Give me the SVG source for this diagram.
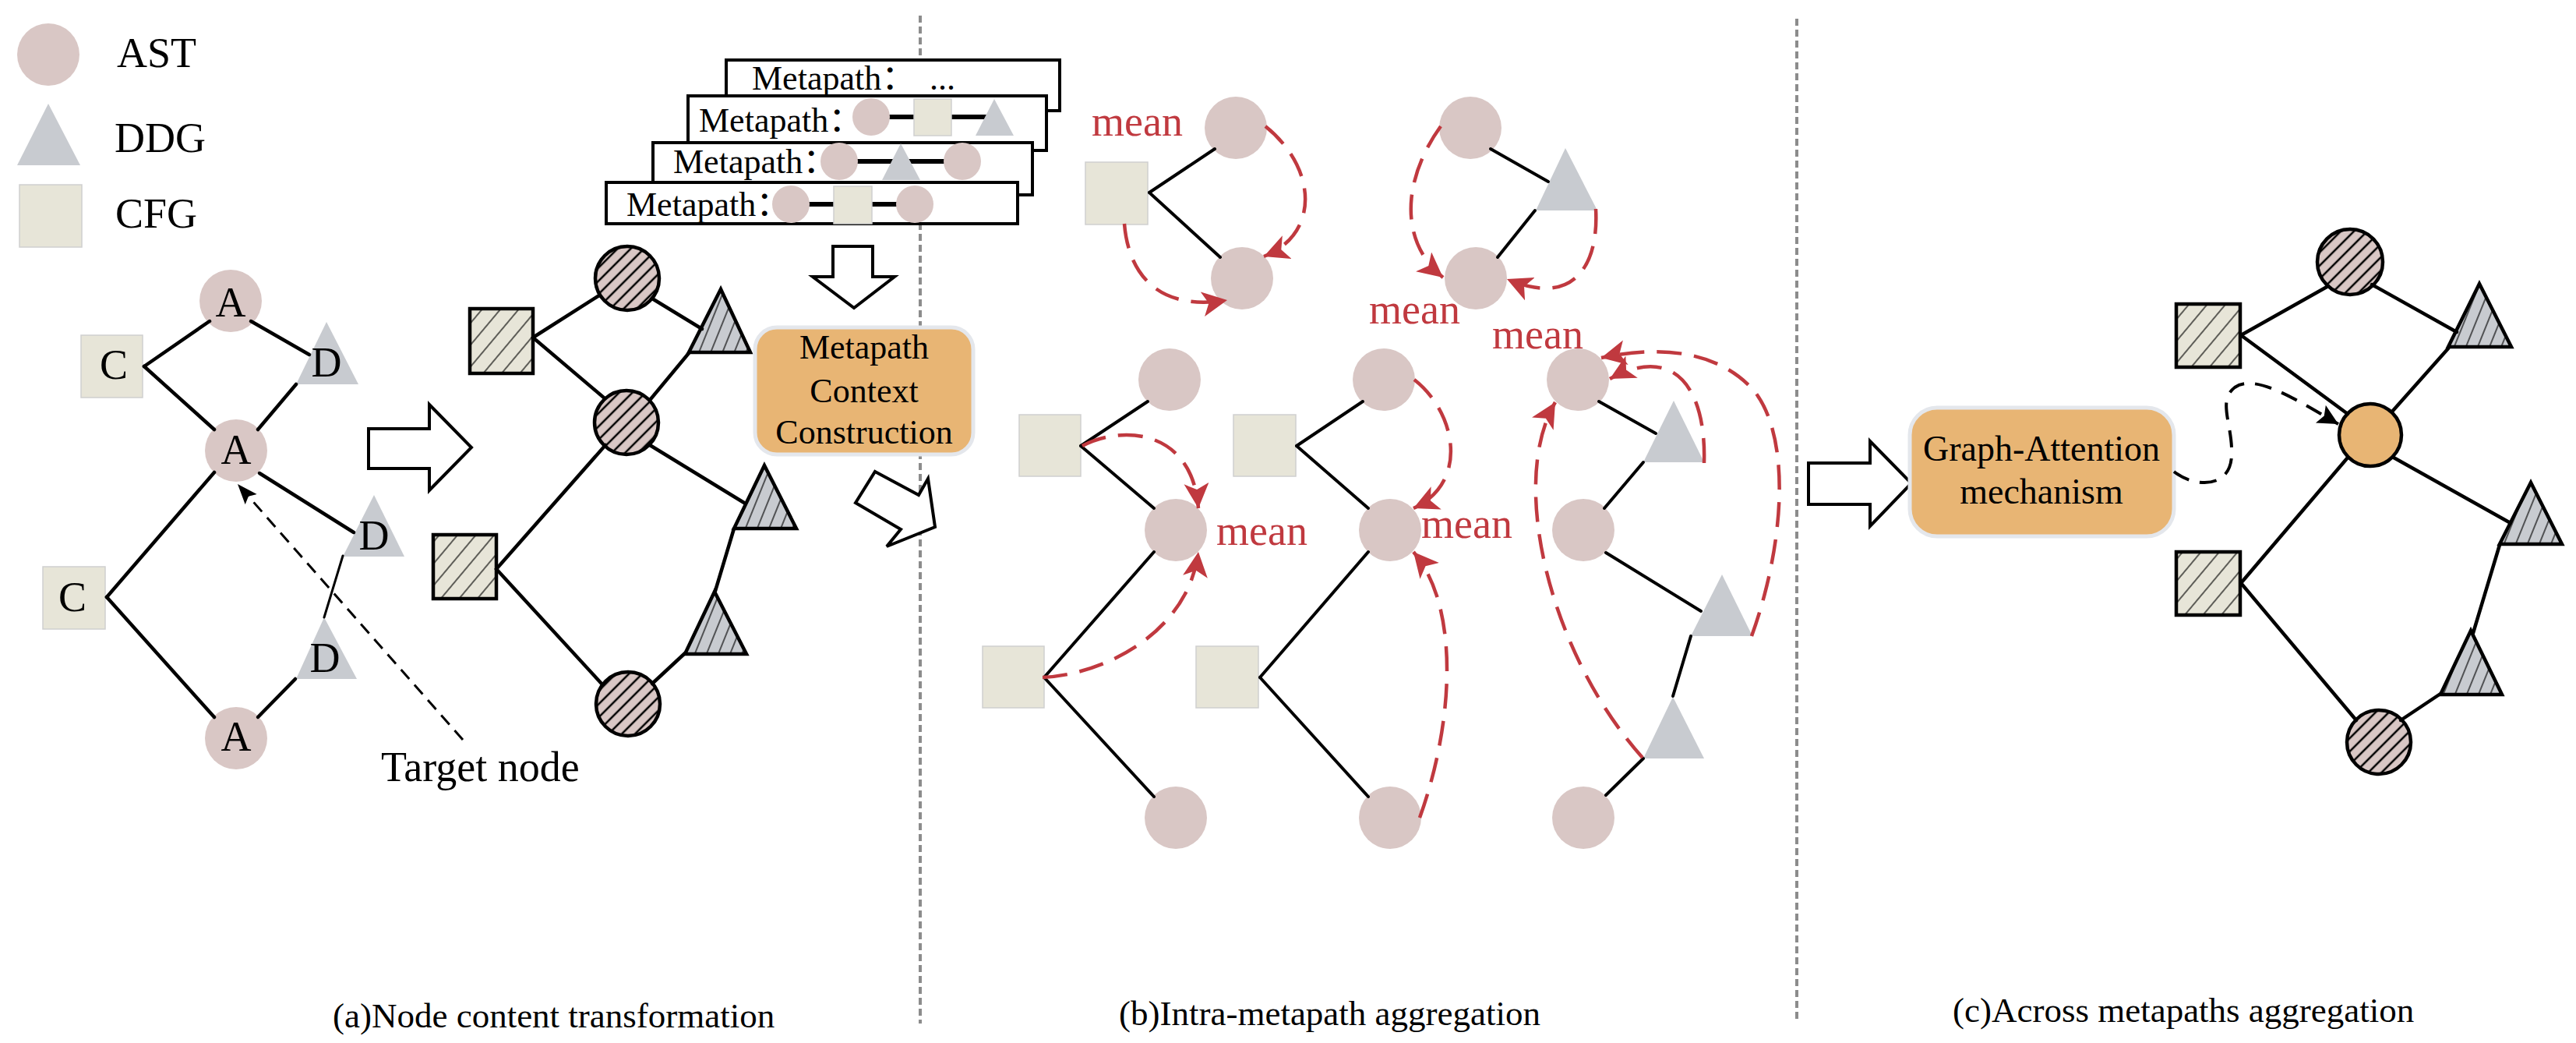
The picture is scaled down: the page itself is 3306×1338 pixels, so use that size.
<svg xmlns="http://www.w3.org/2000/svg" width="3306" height="1338" viewBox="0 0 3306 1338">
<style>
.t{font-family:"Liberation Serif","Times New Roman",serif;fill:#000}
.n54{font-size:54px}
.n44{font-size:44px}
.mid{text-anchor:middle}
.red{fill:#c0393f}
.ast{fill:#d9c7c5}
.ddg{fill:#c8cbd0}
.cfg{fill:#e7e5d8;stroke:#cfcfcf;stroke-width:1.5}
.hcirc{fill:url(#hc);stroke:#000;stroke-width:4.5}
.hsq{fill:url(#hs);stroke:#000;stroke-width:4.5}
.htri{fill:url(#ht);stroke:#000;stroke-width:4.5;stroke-linejoin:miter}
.edge{stroke:#000;stroke-width:4.5;fill:none;stroke-linecap:round}
.eb{stroke-width:4}
.thin{stroke-width:3}
.rd{stroke:#c0393f;stroke-width:4.5;fill:none;stroke-dasharray:32 16}
.bd{stroke:#000;stroke-width:3;fill:none;stroke-dasharray:16 10}
.bd2{stroke:#000;stroke-width:4;fill:none;stroke-dasharray:22 14}
.div{stroke:#8c8c8c;stroke-width:4;fill:none;stroke-dasharray:9 5}
.hollow{fill:#fff;stroke:#000;stroke-width:4;stroke-linejoin:miter}
.mp{fill:#fff;stroke:#000;stroke-width:4}
.obox{fill:#e8b574;stroke:#e4e7ec;stroke-width:5}
.link{stroke:#000;stroke-width:6;stroke-linecap:round}
</style>
<defs>
<pattern id="hc" width="12" height="12" patternUnits="userSpaceOnUse" patternTransform="rotate(45)"><rect width="12" height="12" fill="#d9c7c5"/><line x1="6" y1="0" x2="6" y2="12" stroke="#000" stroke-width="2.5"/></pattern>
<pattern id="hs" width="18" height="18" patternUnits="userSpaceOnUse" patternTransform="rotate(40)"><rect width="18" height="18" fill="#e7e5d8"/><line x1="9" y1="0" x2="9" y2="18" stroke="#000" stroke-width="1.2"/></pattern>
<pattern id="ht" width="14" height="14" patternUnits="userSpaceOnUse" patternTransform="rotate(22)"><rect width="14" height="14" fill="#c8cbd0"/><line x1="7" y1="0" x2="7" y2="14" stroke="#000" stroke-width="1.2"/></pattern>
<marker id="ra" markerUnits="userSpaceOnUse" markerWidth="34" markerHeight="34" refX="32" refY="16" orient="auto"><path d="M0,0 L32,16 L0,32 L8,16 z" fill="#c0393f"/></marker>
<marker id="ba" markerUnits="userSpaceOnUse" markerWidth="28" markerHeight="22" refX="26" refY="10" orient="auto"><path d="M0,0 L26,10 L0,20 L5,10 z" fill="#000"/></marker>
<marker id="ba2" markerUnits="userSpaceOnUse" markerWidth="28" markerHeight="28" refX="26" refY="13" orient="auto"><path d="M0,0 L26,13 L0,26 L5,13 z" fill="#000"/></marker>
</defs>
<rect width="3306" height="1338" fill="#fff"/>

<g id="dividers">
<line class="div" x1="1181" y1="20" x2="1181" y2="1313"/>
<line class="div" x1="2306" y1="24" x2="2306" y2="1308"/>
</g>

<g id="legend">
<g id="legend-ast"><circle class="ast" cx="62" cy="70" r="40"/><text class="t n54" x="150" y="86">AST</text></g>
<g id="legend-ddg"><polygon class="ddg" points="62,133 22,212 103,212"/><text class="t n54" x="147" y="195">DDG</text></g>
<g id="legend-cfg"><rect class="cfg" x="25" y="237" width="80" height="80"/><text class="t n54" x="148" y="292">CFG</text></g>
</g>

<!-- (a) original graph -->
<g id="a-A1"><circle class="ast" cx="296" cy="386" r="40"/><text class="t n54 mid" x="296" y="406">A</text></g>
<g id="a-C1"><rect class="cfg" x="104" y="430" width="79" height="80"/><text class="t n54 mid" x="146" y="486">C</text></g>
<g id="a-D1"><polygon class="ddg" points="419,413 380,493 460,493"/><text class="t n54 mid" x="419" y="483">D</text></g>
<g id="a-A2"><circle class="ast" cx="303" cy="578" r="40"/><text class="t n54 mid" x="303" y="595">A</text></g>
<g id="a-D2"><polygon class="ddg" points="480,635 440,714 519,714"/><text class="t n54 mid" x="480" y="705">D</text></g>
<g id="a-C2"><rect class="cfg" x="55" y="727" width="80" height="80"/><text class="t n54 mid" x="93" y="784">C</text></g>
<g id="a-D3"><polygon class="ddg" points="416,792 380,871 458,871"/><text class="t n54 mid" x="417" y="862">D</text></g>
<g id="a-A3"><circle class="ast" cx="303" cy="947" r="40"/><text class="t n54 mid" x="303" y="963">A</text></g>
<g id="a-target-label"><text class="t n54" x="489" y="1002">Target node</text></g>
<g id="a-transform-arrow"><polygon class="hollow" points="473,550 551,550 551,519 605,574 551,629 551,601 473,601"/></g>

<!-- (a) transformed graph -->
<g id="h-c1"><circle class="hcirc" cx="805" cy="357" r="41"/></g>
<g id="h-s1"><rect class="hsq" x="603" y="396" width="81" height="83"/></g>
<g id="h-t1"><polygon class="htri" points="925,371 884,452 963,452"/></g>
<g id="h-c2"><circle class="hcirc" cx="804" cy="542" r="41"/></g>
<g id="h-t2"><polygon class="htri" points="981,597 942,678 1022,678"/></g>
<g id="h-s2"><rect class="hsq" x="556" y="686" width="81" height="82"/></g>
<g id="h-t3"><polygon class="htri" points="917,759 879,839 958,839"/></g>
<g id="h-c3"><circle class="hcirc" cx="806" cy="903" r="41"/></g>

<!-- metapath stack -->
<g id="metapath-4"><rect class="mp" x="932" y="77" width="428" height="65"/><text class="t n44" font-family="Liberation Serif, serif" x="965" y="115">Metapath<tspan font-family="'Noto Sans CJK SC',sans-serif">：</tspan></text><text class="t n44" x="1193" y="115">...</text></g>
<g id="metapath-3"><rect class="mp" x="883" y="123" width="460" height="70"/><text class="t n44" font-family="Liberation Serif, serif" x="897" y="169">Metapath<tspan font-family="'Noto Sans CJK SC',sans-serif">：</tspan></text>
<line class="link" x1="1142" y1="150" x2="1175" y2="150"/><line class="link" x1="1221" y1="150" x2="1266" y2="150"/>
<circle class="ast" cx="1118" cy="150" r="24"/><rect class="cfg" x="1173" y="127" width="48" height="47"/><polygon class="ddg" points="1276,127 1252,174 1301,174"/></g>
<g id="metapath-2"><rect class="mp" x="838" y="183" width="487" height="67"/><text class="t n44" font-family="Liberation Serif, serif" x="864" y="222">Metapath<tspan font-family="'Noto Sans CJK SC',sans-serif">：</tspan></text>
<line class="link" x1="1100" y1="207" x2="1211" y2="207"/>
<circle class="ast" cx="1077" cy="207" r="24"/><polygon class="ddg" points="1156,184 1132,231 1181,231"/><circle class="ast" cx="1235" cy="207" r="24"/></g>
<g id="metapath-1"><rect class="mp" x="778" y="234" width="528" height="53"/><text class="t n44" font-family="Liberation Serif, serif" x="804" y="277">Metapath<tspan font-family="'Noto Sans CJK SC',sans-serif">：</tspan></text>
<line class="link" x1="1038" y1="262" x2="1152" y2="262"/>
<circle class="ast" cx="1015" cy="262" r="24"/><rect class="cfg" x="1070" y="239" width="49" height="48"/><circle class="ast" cx="1174" cy="262" r="24"/></g>
<g id="down-arrow"><polygon class="hollow" points="1069,316 1120,316 1120,355 1148,355 1096,395 1043,355 1069,355"/></g>
<g id="mcc-box"><rect class="obox" x="969" y="420" width="280" height="163" rx="28"/>
<text class="t n44 mid" font-family="Liberation Serif, serif" x="1109" y="460">Metapath</text><text class="t n44 mid" font-family="Liberation Serif, serif" x="1109" y="516">Context</text><text class="t n44 mid" font-family="Liberation Serif, serif" x="1109" y="569">Construction</text></g>
<g id="diag-arrow"><polygon class="hollow" points="1123,605 1179,635 1191,614 1200,676 1138,701 1156,679 1098,645"/></g>

<!-- (b) -->
<g id="b1-c1"><circle class="ast" cx="1586" cy="164" r="40"/></g>
<g id="b1-s"><rect class="cfg" x="1393" y="208" width="80" height="80"/></g>
<g id="b1-c2"><circle class="ast" cx="1594" cy="357" r="40"/></g>
<g id="b2-c1"><circle class="ast" cx="1887" cy="164" r="40"/></g>
<g id="b2-t"><polygon class="ddg" points="2009,190 1971,270 2050,270"/></g>
<g id="b2-c2"><circle class="ast" cx="1894" cy="357" r="40"/></g>
<g id="b3-c1"><circle class="ast" cx="1501" cy="487" r="40"/></g>
<g id="b3-s1"><rect class="cfg" x="1308" y="532" width="79" height="79"/></g>
<g id="b3-c2"><circle class="ast" cx="1509" cy="680" r="40"/></g>
<g id="b3-s2"><rect class="cfg" x="1261" y="829" width="79" height="79"/></g>
<g id="b3-c3"><circle class="ast" cx="1509" cy="1049" r="40"/></g>
<g id="b4-c1"><circle class="ast" cx="1776" cy="487" r="40"/></g>
<g id="b4-s1"><rect class="cfg" x="1583" y="532" width="80" height="79"/></g>
<g id="b4-c2"><circle class="ast" cx="1784" cy="680" r="40"/></g>
<g id="b4-s2"><rect class="cfg" x="1535" y="829" width="80" height="79"/></g>
<g id="b4-c3"><circle class="ast" cx="1784" cy="1049" r="40"/></g>
<g id="b5-c1"><circle class="ast" cx="2025" cy="487" r="40"/></g>
<g id="b5-t1"><polygon class="ddg" points="2148,514 2109,593 2187,593"/></g>
<g id="b5-c2"><circle class="ast" cx="2032" cy="680" r="40"/></g>
<g id="b5-t2"><polygon class="ddg" points="2210,737 2170,816 2249,816"/></g>
<g id="b5-t3"><polygon class="ddg" points="2147,894 2109,973 2187,973"/></g>
<g id="b5-c3"><circle class="ast" cx="2032" cy="1049" r="40"/></g>
<g id="mean-labels">
<text class="t n54 red" x="1401" y="174">mean</text>
<text class="t n54 red" x="1757" y="415">mean</text>
<text class="t n54 red" x="1915" y="447">mean</text>
<text class="t n54 red" x="1561" y="699">mean</text>
<text class="t n54 red" x="1824" y="690">mean</text>
</g>

<!-- (c) -->
<g id="c-arrow"><polygon class="hollow" points="2321,594 2400,594 2400,566 2453,620 2400,675 2400,647 2321,647"/></g>
<g id="ga-box"><rect class="obox" x="2451" y="523" width="339" height="165" rx="35"/>
<text class="t mid" font-family="Liberation Serif, serif" font-size="46" x="2620" y="591">Graph-Attention</text><text class="t mid" font-family="Liberation Serif, serif" font-size="46" x="2620" y="646">mechanism</text></g>
<g id="c-c1"><circle class="hcirc" cx="3016" cy="336" r="42"/></g>
<g id="c-s1"><rect class="hsq" x="2793" y="390" width="82" height="81"/></g>
<g id="c-t1"><polygon class="htri" points="3182,364 3142,445 3223,445"/></g>
<g id="c-center"><circle cx="3042" cy="558" r="40" fill="#e8b574" stroke="#000" stroke-width="4.5"/></g>
<g id="c-t2"><polygon class="htri" points="3248,619 3208,698 3288,698"/></g>
<g id="c-s2"><rect class="hsq" x="2793" y="708" width="82" height="81"/></g>
<g id="c-t3"><polygon class="htri" points="3171,809 3132,891 3211,891"/></g>
<g id="c-c2"><circle class="hcirc" cx="3053" cy="952" r="41"/></g>

<g id="connectors">
<!-- (a) original -->
<line class="edge" x1="185" y1="470" x2="269" y2="412"/>
<line class="edge" x1="322" y1="412" x2="397" y2="455"/>
<line class="edge" x1="185" y1="470" x2="275" y2="551"/>
<line class="edge" x1="380" y1="493" x2="331" y2="551"/>
<line class="edge" x1="333" y1="607" x2="454" y2="683"/>
<line class="edge" x1="275" y1="606" x2="137" y2="766"/>
<line class="edge" x1="137" y1="766" x2="275" y2="920"/>
<line class="edge" x1="331" y1="920" x2="379" y2="871"/>
<line class="edge thin" x1="440" y1="713" x2="416" y2="792"/>
<path class="bd" d="M594,949 L305,621" marker-end="url(#ba)"/>
<!-- (a) transformed -->
<line class="edge" x1="684" y1="433" x2="769" y2="379"/>
<line class="edge" x1="837" y1="383" x2="901" y2="422"/>
<line class="edge" x1="684" y1="433" x2="776" y2="511"/>
<line class="edge" x1="884" y1="453" x2="835" y2="512"/>
<line class="edge" x1="834" y1="571" x2="955" y2="645"/>
<line class="edge" x1="777" y1="571" x2="637" y2="730"/>
<line class="edge" x1="637" y1="730" x2="772" y2="877"/>
<line class="edge" x1="837" y1="877" x2="879" y2="838"/>
<line class="edge" x1="942" y1="678" x2="918" y2="758"/>
<!-- (b) -->
<line class="edge eb" x1="1475" y1="247" x2="1559" y2="191"/>
<line class="edge eb" x1="1475" y1="247" x2="1566" y2="330"/>
<line class="edge eb" x1="1913" y1="191" x2="1987" y2="233"/>
<line class="edge eb" x1="1970" y1="270" x2="1922" y2="330"/>
<line class="edge eb" x1="1387" y1="572" x2="1473" y2="515"/>
<line class="edge eb" x1="1387" y1="572" x2="1481" y2="652"/>
<line class="edge eb" x1="1481" y1="708" x2="1340" y2="869"/>
<line class="edge eb" x1="1340" y1="869" x2="1481" y2="1022"/>
<line class="edge eb" x1="1664" y1="572" x2="1749" y2="515"/>
<line class="edge eb" x1="1664" y1="572" x2="1756" y2="652"/>
<line class="edge eb" x1="1756" y1="708" x2="1617" y2="869"/>
<line class="edge eb" x1="1617" y1="869" x2="1756" y2="1022"/>
<line class="edge eb" x1="2052" y1="515" x2="2125" y2="556"/>
<line class="edge eb" x1="2109" y1="593" x2="2059" y2="652"/>
<line class="edge eb" x1="2061" y1="709" x2="2183" y2="784"/>
<line class="edge eb" x1="2170" y1="816" x2="2147" y2="893"/>
<line class="edge eb" x1="2109" y1="973" x2="2061" y2="1020"/>
<path class="rd" d="M1624,162 C1690,215 1695,300 1622,329" marker-end="url(#ra)"/>
<path class="rd" d="M1443,287 C1448,350 1485,400 1575,385" marker-end="url(#ra)"/>
<path class="rd" d="M1849,162 C1800,230 1795,310 1852,356" marker-end="url(#ra)"/>
<path class="rd" d="M2048,268 C2052,340 2020,395 1934,358" marker-end="url(#ra)"/>
<path class="rd" d="M1389,572 C1440,545 1530,550 1538,652" marker-end="url(#ra)"/>
<path class="rd" d="M1338,869 C1420,865 1525,810 1538,708" marker-end="url(#ra)"/>
<path class="rd" d="M1815,487 C1870,530 1885,620 1814,652" marker-end="url(#ra)"/>
<path class="rd" d="M1822,1049 C1865,930 1875,780 1814,708" marker-end="url(#ra)"/>
<path class="rd" d="M2108,972 C1990,840 1935,620 1996,516" marker-end="url(#ra)"/>
<path class="rd" d="M2187,594 C2190,500 2150,440 2066,486" marker-end="url(#ra)"/>
<path class="rd" d="M2248,816 C2290,700 2300,560 2250,500 C2200,445 2120,445 2055,459" marker-end="url(#ra)"/>
<!-- (c) -->
<line class="edge" x1="2876" y1="430" x2="2988" y2="367"/>
<line class="edge" x1="3044" y1="365" x2="3153" y2="426"/>
<line class="edge" x1="2876" y1="430" x2="3013" y2="531"/>
<line class="edge" x1="3142" y1="447" x2="3070" y2="528"/>
<line class="edge" x1="3072" y1="587" x2="3222" y2="671"/>
<line class="edge" x1="3013" y1="587" x2="2876" y2="748"/>
<line class="edge" x1="2876" y1="748" x2="3024" y2="924"/>
<line class="edge" x1="3081" y1="924" x2="3132" y2="890"/>
<line class="edge" x1="3208" y1="699" x2="3174" y2="812"/>
<path class="bd2" d="M2790,605 C2815,625 2862,628 2864,585 C2866,545 2845,515 2868,497 C2895,478 2950,515 3001,544" marker-end="url(#ba2)"/>
</g>

<g id="captions">
<text class="t" font-size="45" x="427" y="1318">(a)Node content transformation</text>
<text class="t" font-size="45" x="1436" y="1315">(b)Intra-metapath aggregation</text>
<text class="t" font-size="45" x="2506" y="1311">(c)Across metapaths aggregation</text>
</g>
</svg>
